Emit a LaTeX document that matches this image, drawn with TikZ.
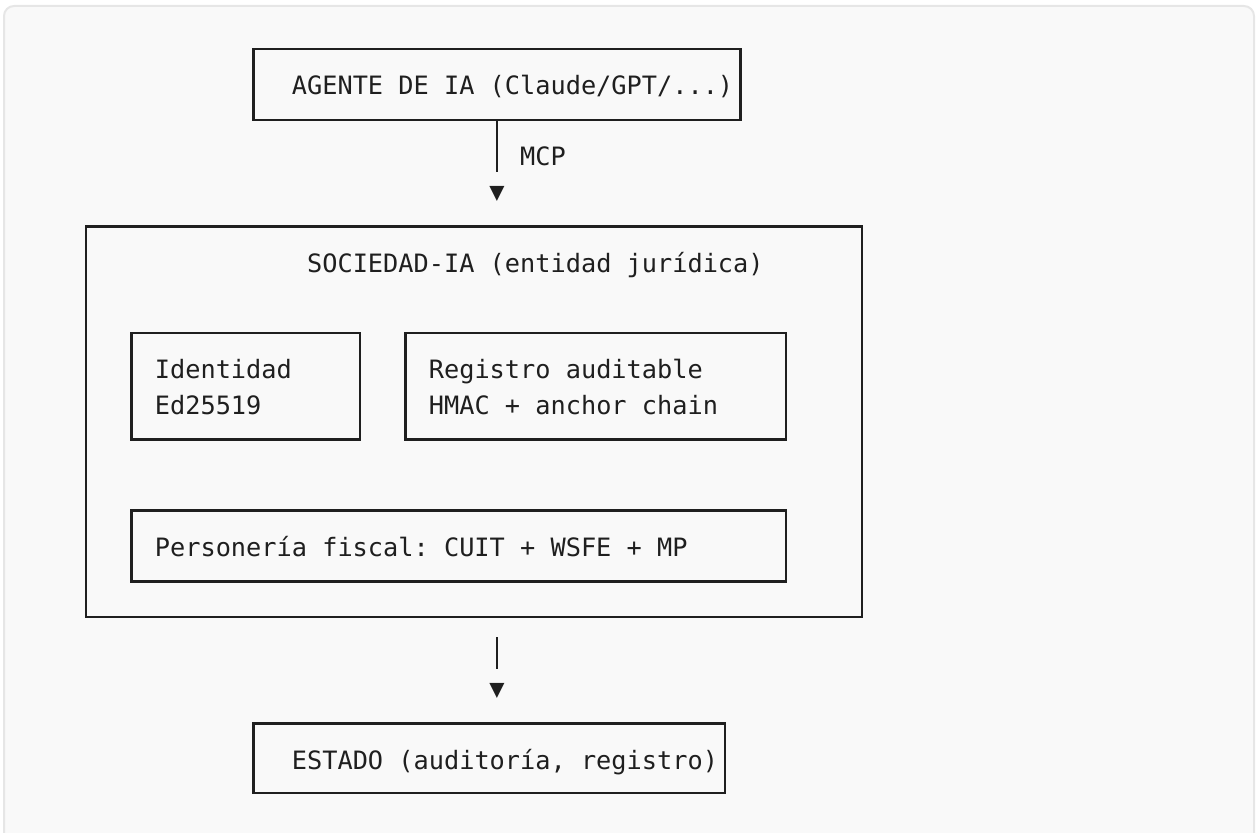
\documentclass[tikz,border=0pt]{standalone}
\usepackage{fontspec}
\setmonofont{DejaVu Sans Mono}
\usetikzlibrary{fit}

\definecolor{codebg}{HTML}{F9F9F9}
\definecolor{codeframe}{HTML}{E6E6E6}
\definecolor{ink}{HTML}{1F1F1F}

\begin{document}
\begin{tikzpicture}[x=0.5pt,y=-0.5pt,
    box/.style={draw=ink,line width=1.2pt,inner sep=0pt},
    txt/.style={text=ink,inner sep=0pt,align=left,
      font=\ttfamily\fontsize{12.64}{17.75}\selectfont},
    wire/.style={draw=ink,line width=1.2pt}]

    % Grid (pixels): column = 15.22, row = 35.5
    % border rows at 49 + 35.5k, baselines at 59.5 + 35.5k
    % (two-line labels are placed by the baseline of their last line)

    %==========================
    % Code-block background
    %==========================
    \useasboundingbox (0,0) rectangle (1256,833);
    \filldraw[fill=codebg,draw=codeframe,line width=1pt,rounded corners=5pt]
      (4,6) rectangle (1254,880);

    %==========================
    % Agent
    %==========================
    \node[box,fit={(253.42,49) (740.46,120)}] (agente) {};
    \node[txt,anchor=base west] (agente-t) at (291.47,95) {AGENTE DE IA (Claude/GPT/...)};

    % MCP link
    \coordinate (mcpend) at (496.94,172);
    \node[txt,anchor=base] (tipa) at (496.94,200.5) {▼};
    \draw[wire] (agente.south -| mcpend) -- (mcpend);
    \node[txt,anchor=base west] (mcp) at (519.77,166) {MCP};

    %==========================
    % Sociedad-IA
    %==========================
    \node[box,fit={(86,226.5) (862.22,617)}] (sociedad) {};
    \node[txt,anchor=base west] (sociedad-t) at (306.69,272.5) {SOCIEDAD-IA (entidad jurídica)};

    % inner blocks
    \node[box,fit={(131.66,333) (359.96,439.5)}] (identidad) {};
    \node[txt,anchor=base west] (identidad-t) at (154.49,414.5) {Identidad\\Ed25519};

    \node[box,fit={(405.62,333) (786.12,439.5)}] (registro) {};
    \node[txt,anchor=base west] (registro-t) at (428.45,414.5) {Registro auditable\\HMAC + anchor chain};

    \node[box,fit={(131.66,510.5) (786.12,581.5)}] (fiscal) {};
    \node[txt,anchor=base west] (fiscal-t) at (154.49,556.5) {Personería fiscal: CUIT + WSFE + MP};

    %==========================
    % Estado
    %==========================
    \coordinate (estend) at (496.94,669);
    \node[txt,anchor=base] (tipb) at (496.94,697.5) {▼};
    \draw[wire,shorten <=9.5pt] (estend |- sociedad.south) -- (estend);

    \node[box,fit={(253.42,723.5) (725.24,793)}] (estado) {};
    \node[txt,anchor=base west] (estado-t) at (291.47,769.5) {ESTADO (auditoría, registro)};

\end{tikzpicture}
\end{document}
